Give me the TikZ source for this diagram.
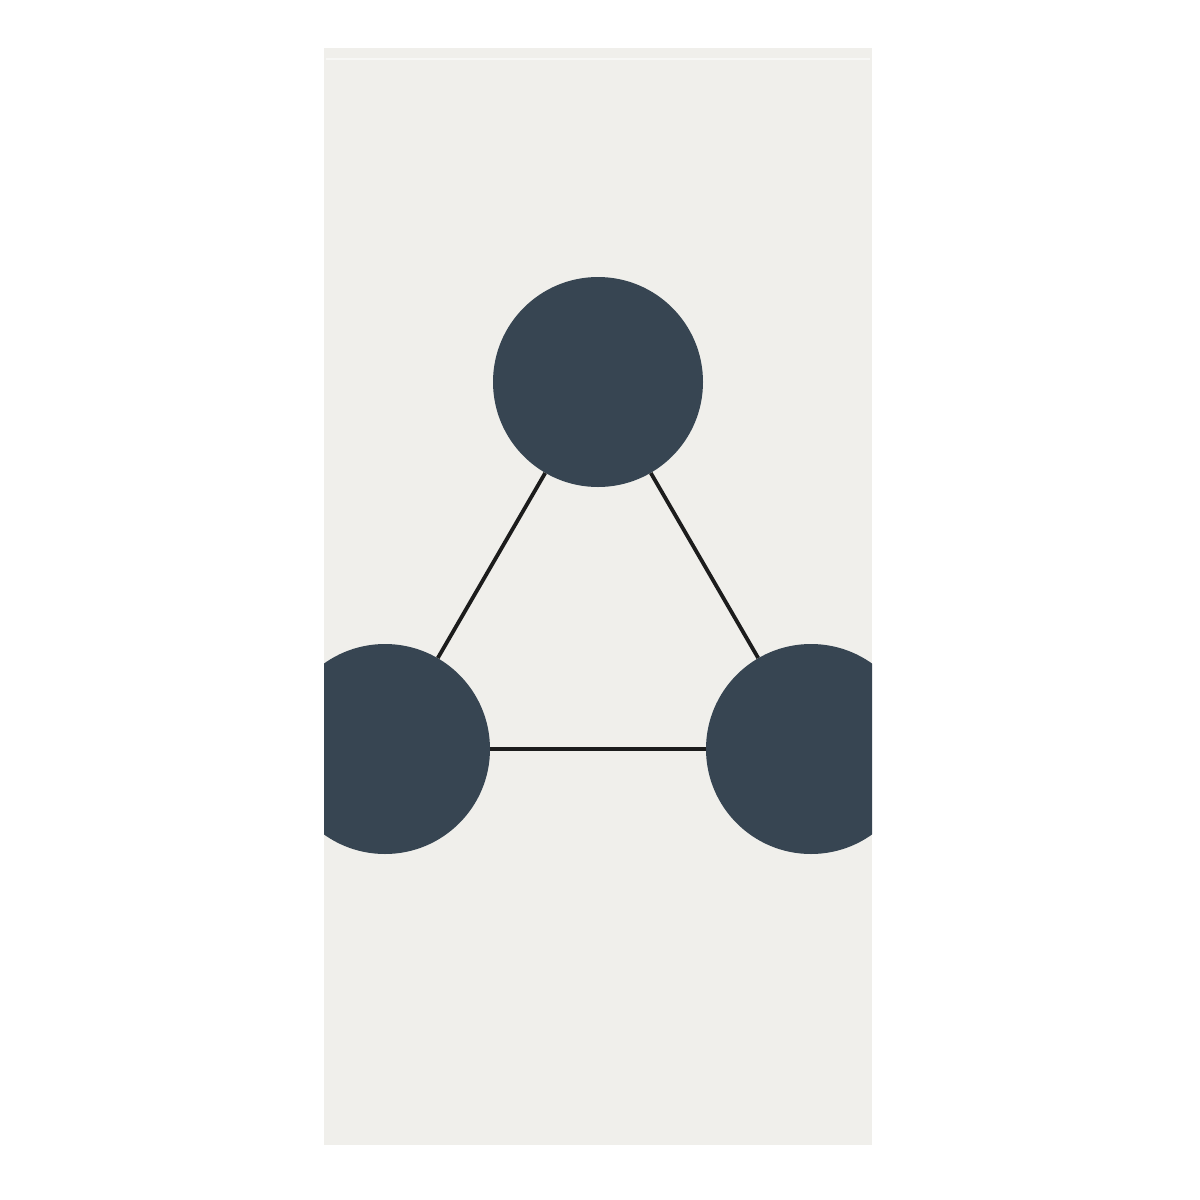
\documentclass[tikz,border=0pt]{standalone}
\begin{document}
\begin{tikzpicture}[x=1pt,y=-1pt,
  dot/.style={circle,fill=dotcol,inner sep=0pt,minimum size=210pt},
  link/.style={draw=linkcol,line width=3.8pt}]
\definecolor{towel}{HTML}{F0EFEB}
\definecolor{dotcol}{HTML}{374552}
\definecolor{linkcol}{HTML}{1C1C1C}
\definecolor{hem}{HTML}{F7F7F5}
\useasboundingbox (0,0) rectangle (1200,1200);
\fill[white] (0,0) rectangle (1200,1200);
\fill[towel] (324,48) rectangle (872,1145);
\draw[hem,line width=1.2pt] (326,59) -- (870,59);
\begin{scope}
\clip (324,48) rectangle (872,1145);
\node[dot] (top) at (598,382) {};
\node[dot] (left) at (385,749) {};
\node[dot] (right) at (811,749) {};
\draw[link] (top) -- (left);
\draw[link] (top) -- (right);
\draw[link] (left) -- (right);
\end{scope}
\end{tikzpicture}
\end{document}
